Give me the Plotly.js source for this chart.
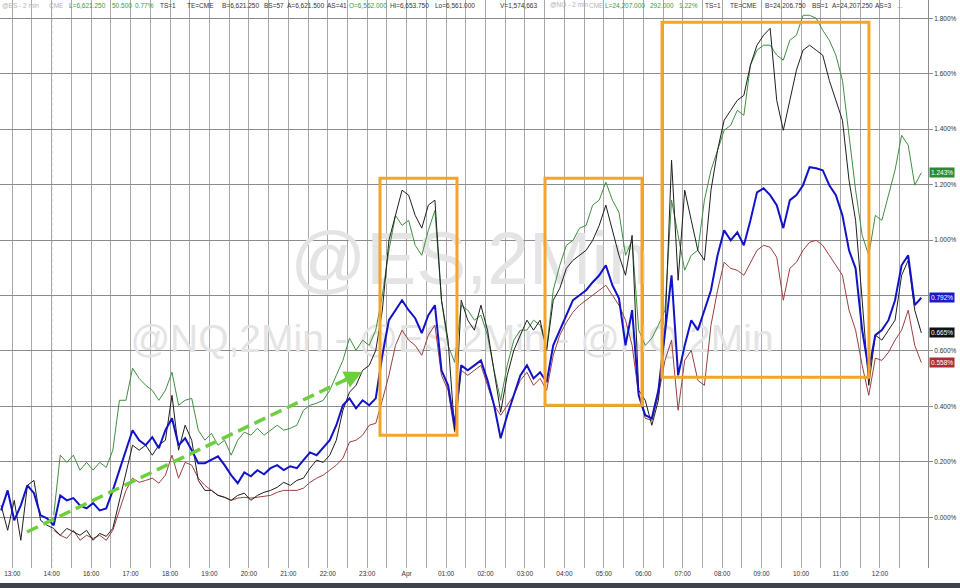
<!DOCTYPE html>
<html>
<head>
<meta charset="utf-8">
<script src="https://cdn.plot.ly/plotly-3.0.1.min.js"></script>
<style>html,body{margin:0;padding:0;background:#fff;}#chart{width:960px;height:588px;}</style>
</head>
<body>
<div id="chart"></div>
<script>
// ---- DATA (10-minute samples, % change) ----
const T0 = -17/60;      // first sample, hours after 13:00 (trading-time axis)
const STEP = 1/6;       // 10 minutes

const hourLabels = ["13:00","14:00","16:00","17:00","18:00","19:00","20:00","21:00","22:00","23:00","Apr",
  "01:00","02:00","03:00","04:00","05:00","06:00","07:00","08:00","09:00","10:00","11:00","12:00"];

const blue = [0.025,0.097,-0.011,0.043,0.115,0.087,0.007,-0.004,-0.029,0.079,
0.061,0.069,0.043,0.032,0.051,0.025,0.032,0.097,0.170,0.242,
0.314,0.278,0.260,0.289,0.249,0.314,0.357,0.260,0.285,0.242,
0.195,0.195,0.206,0.220,0.188,0.152,0.123,0.162,0.148,0.170,
0.155,0.177,0.188,0.170,0.184,0.177,0.206,0.234,0.224,0.253,
0.278,0.332,0.404,0.429,0.393,0.422,0.404,0.429,0.584,0.711,
0.747,0.783,0.747,0.718,0.664,0.729,0.765,0.530,0.476,0.332,
0.548,0.530,0.548,0.566,0.494,0.404,0.285,0.368,0.440,0.512,
0.548,0.501,0.523,0.487,0.620,0.675,0.729,0.783,0.801,0.819,
0.848,0.873,0.909,0.837,0.790,0.620,0.747,0.440,0.368,0.357,
0.458,0.675,0.873,0.512,0.620,0.711,0.675,0.747,0.819,0.945,
1.035,0.999,1.028,0.981,1.071,1.172,1.187,1.162,1.126,1.043,
1.144,1.162,1.198,1.263,1.259,1.252,1.198,1.162,1.089,0.963,
0.898,0.675,0.530,0.657,0.675,0.711,0.783,0.909,0.945,0.765,
0.792];

const green = [null,null,null,null,null,null,null,null,0.007,0.224,
0.198,0.224,0.170,0.198,0.170,0.198,0.180,0.242,0.422,0.422,
0.538,0.501,0.476,0.458,0.422,0.458,0.523,0.404,0.422,0.429,
0.314,0.278,0.303,0.260,0.278,0.224,0.278,0.307,0.296,0.321,
0.296,0.314,0.332,0.314,0.321,0.332,0.386,0.404,0.411,0.422,
0.458,0.512,0.566,0.646,0.602,0.639,0.620,0.675,0.801,0.963,
1.089,1.053,1.071,0.981,0.945,1.035,1.107,0.783,0.620,0.559,
0.765,0.747,0.711,0.729,0.657,0.530,0.422,0.548,0.639,0.675,
0.675,0.711,0.693,0.610,0.819,0.909,0.981,0.999,1.043,1.053,
1.126,1.144,1.209,1.144,1.100,0.945,0.999,0.675,0.620,0.646,
0.693,0.747,1.144,1.017,0.891,0.945,0.963,1.144,1.252,1.324,
1.396,1.414,1.468,1.450,1.631,1.685,1.703,1.703,1.667,1.649,
1.721,1.739,1.811,1.811,1.800,1.757,1.721,1.667,1.576,1.378,
1.180,1.017,0.945,1.089,1.071,1.162,1.252,1.378,1.342,1.198,
1.243];

const black = [0.043,-0.047,0.061,-0.083,0.115,0.133,-0.011,-0.029,-0.040,-0.065,
-0.040,-0.054,-0.065,-0.047,-0.083,-0.058,-0.069,-0.040,0.061,0.170,
0.260,0.242,0.260,0.224,0.260,0.278,0.440,0.242,0.332,0.278,
0.133,0.097,0.097,0.079,0.072,0.061,0.079,0.087,0.061,0.079,
0.090,0.097,0.108,0.126,0.115,0.133,0.141,0.177,0.206,0.198,
0.224,0.278,0.386,0.451,0.476,0.530,0.548,0.602,0.747,0.999,
1.089,1.180,1.162,1.089,1.043,1.126,1.144,0.783,0.639,0.314,
0.783,0.711,0.675,0.765,0.675,0.530,0.379,0.512,0.602,0.657,
0.711,0.675,0.711,0.602,0.783,0.826,0.898,0.927,0.945,0.963,
0.999,1.053,1.126,1.035,0.945,0.873,1.017,0.458,0.422,0.332,
0.422,0.675,1.288,0.855,1.180,1.071,0.963,0.927,1.180,1.324,
1.432,1.468,1.504,1.522,1.631,1.703,1.739,1.764,1.504,1.396,
1.504,1.613,1.685,1.703,1.685,1.667,1.576,1.504,1.432,1.216,
1.071,0.783,0.476,0.657,0.639,0.675,0.711,0.873,0.927,0.747,
0.665];

const brown = [null,null,null,null,null,null,null,null,-0.047,-0.065,
-0.076,-0.047,-0.083,-0.065,-0.076,-0.065,-0.083,-0.047,0.025,0.097,
0.141,0.126,0.133,0.141,0.123,0.152,0.224,0.141,0.198,0.188,
0.141,0.115,0.097,0.079,0.072,0.061,0.069,0.072,0.069,0.072,
0.076,0.079,0.090,0.097,0.097,0.097,0.105,0.126,0.141,0.152,
0.170,0.188,0.213,0.271,0.278,0.296,0.332,0.339,0.422,0.512,
0.620,0.675,0.639,0.620,0.584,0.657,0.693,0.512,0.458,0.307,
0.530,0.512,0.530,0.548,0.476,0.404,0.368,0.404,0.440,0.494,
0.523,0.476,0.501,0.458,0.584,0.657,0.703,0.740,0.765,0.783,
0.801,0.819,0.837,0.801,0.765,0.711,0.620,0.440,0.357,0.350,
0.440,0.566,0.639,0.386,0.566,0.602,0.494,0.476,0.693,0.819,
0.920,0.898,0.891,0.873,0.920,0.963,0.981,0.974,0.938,0.783,
0.898,0.920,0.963,0.992,0.999,0.981,0.945,0.909,0.873,0.747,
0.675,0.548,0.440,0.574,0.566,0.595,0.639,0.675,0.747,0.620,
0.558];

const yTickVals = [0,0.2,0.4,0.6,0.8,1.0,1.2,1.4,1.6,1.8];
const yTickHidden = [0.8];   // label covered by the last-value box in the reference

// ---- header ticker strip (text items) ----
const GRAY = "#b4b4b4", GRN = "#3b9a3b", BLK = "#333333";
const header = [
  ["@ES - 2 min",0,GRAY],["CME",47,GRAY],["L=6,621.250",67,GRN],["50.500",110,GRN],["0.77%",133,GRN],
  ["TS=1",158,BLK],["TE=CME",185,BLK],["B=6,621.250",220,BLK],["BS=57",262,BLK],["A=6,621.500",285,BLK],
  ["AS=41",325,BLK],["O=6,562.000",347,GRN],["Hi=6,653.750",388,BLK],["Lo=6,561.000",433,BLK],
  ["V=1,574,663",498,BLK],["@NQ - 2 min",548,GRAY],["CME",587,GRAY],["L=24,207.000",603,GRN],
  ["292.000",648,GRN],["1.22%",677,GRN],["TS=1",703,BLK],["TE=CME",728,BLK],["B=24,206.750",763,BLK],
  ["BS=1",810,BLK],["A=24,207.250",830,BLK],["AS=3",873,BLK],["...",895,GRN]
];

// ---- build ----
const x = blue.map((_, i) => T0 + i * STEP);
const PW = 928, PH = 568;
const FONT = "Liberation Sans, Arial, sans-serif";

const tickVals = [], tickText = [];
hourLabels.forEach((lab, h) => { tickVals.push(h); tickText.push(lab); tickVals.push(h + 0.5); tickText.push(""); });

const traces = [
  {x:[11.606, 11.15], y:[0.91, 0.632], mode:"text", text:["@ES,2Min", "@NQ,2Min - @ES,2Min - @NQ,2Min"],
   textfont:{family:FONT, size:[75, 39], color:"#e4e4e4"}, hoverinfo:"skip", showlegend:false, cliponaxis:false},
  {x, y: brown, mode:"lines", line:{color:"#9b3f3f", width:1}, connectgaps:false, showlegend:false},
  {x, y: green, mode:"lines", line:{color:"#3f8f3f", width:1}, connectgaps:false, showlegend:false},
  {x, y: black, mode:"lines", line:{color:"#1e1e1e", width:1}, showlegend:false},
  {x, y: blue, mode:"lines", line:{color:"#1212c8", width:2}, showlegend:false}
];

const last = a => a[a.length - 1];
const annotations = header.map(([t, px, c]) => ({
  text: t, xref: "paper", yref: "paper", x: px / PW, y: 1 - 5 / PH, xanchor: "left", yanchor: "middle",
  showarrow: false, font: {family: FONT, size: 6.5, color: c}
}));
[[green, "#2f8a2f"], [blue, "#1a1acc"], [black, "#111111"], [brown, "#a83232"]].forEach(([s, c]) => {
  annotations.push({text: last(s).toFixed(3) + "%", xref: "paper", yref: "y", x: 1.001, y: last(s),
    xanchor: "left", yanchor: "middle", showarrow: false, bgcolor: c, borderpad: 1,
    font: {family: FONT, size: 6.5, color: "#ffffff"}});
});
// arrow head of green dashed arrow
annotations.push({x: 8.868, y: 0.524, xref: "x", yref: "y", ax: -20, ay: 9.5, text: "", showarrow: true,
  arrowhead: 2, arrowsize: 1, arrowwidth: 3.5, arrowcolor: "#6ccf3c"});

const ORANGE = "#f5a42a";
const shapes = [
  {type:"line", xref:"x", yref:"paper", x0:1, x1:1, y0:0, y1:1, line:{color:"#8a8a8a", width:1, dash:"dot"}, layer:"below"},
  {type:"rect", xref:"x", yref:"y", x0:9.324, x1:11.276, y0:0.296, y1:1.223, line:{color:ORANGE, width:3}},
  {type:"rect", xref:"x", yref:"y", x0:13.508, x1:15.967, y0:0.404, y1:1.223, line:{color:ORANGE, width:3}},
  {type:"rect", xref:"x", yref:"y", x0:16.474, x1:21.722, y0:0.505, y1:1.786, line:{color:ORANGE, width:3}},
  {type:"line", xref:"x", yref:"y", x0:0.374, y0:-0.053, x1:8.5, y1:0.4995, line:{color:"#6ccf3c", width:3.5, dash:"12px,6px"}},
  {type:"rect", xref:"paper", yref:"paper", x0:0, x1:960/PW, y0:1 - 583/PH, y1:1 - 590/PH, fillcolor:"#3d434b", line:{width:0}}
];

const layout = {
  width: 960, height: 588,
  margin: {l: 0, r: 32, t: 0, b: 20, pad: 0},
  paper_bgcolor: "#ffffff", plot_bgcolor: "#ffffff",
  font: {family: FONT, color: "#333"},
  showlegend: false,
  xaxis: {range: [-0.311, 23.219], tickmode: "array", tickvals: tickVals, ticktext: tickText,
    showgrid: true, gridcolor: "#a8a8a8", gridwidth: 1, zeroline: false, showline: false, ticks: "",
    tickfont: {family: FONT, size: 6.5, color: "#333"}, fixedrange: true, automargin: false},
  yaxis: {range: [-0.183, 1.866], side: "right", tickmode: "array", tickvals: yTickVals,
    ticktext: yTickVals.map(v => yTickHidden.includes(v) ? "" : v.toFixed(3) + "%"), showgrid: true, gridcolor: "#8c8c8c", gridwidth: 1,
    zeroline: false, showline: true, linecolor: "#8c8c8c", ticks: "outside", ticklen: 4, tickcolor: "#8c8c8c",
    tickfont: {family: FONT, size: 6.5, color: "#333"}, fixedrange: true, automargin: false},
  annotations, shapes
};

Plotly.newPlot("chart", traces, layout, {displayModeBar: false, staticPlot: true});
</script>
</body>
</html>
